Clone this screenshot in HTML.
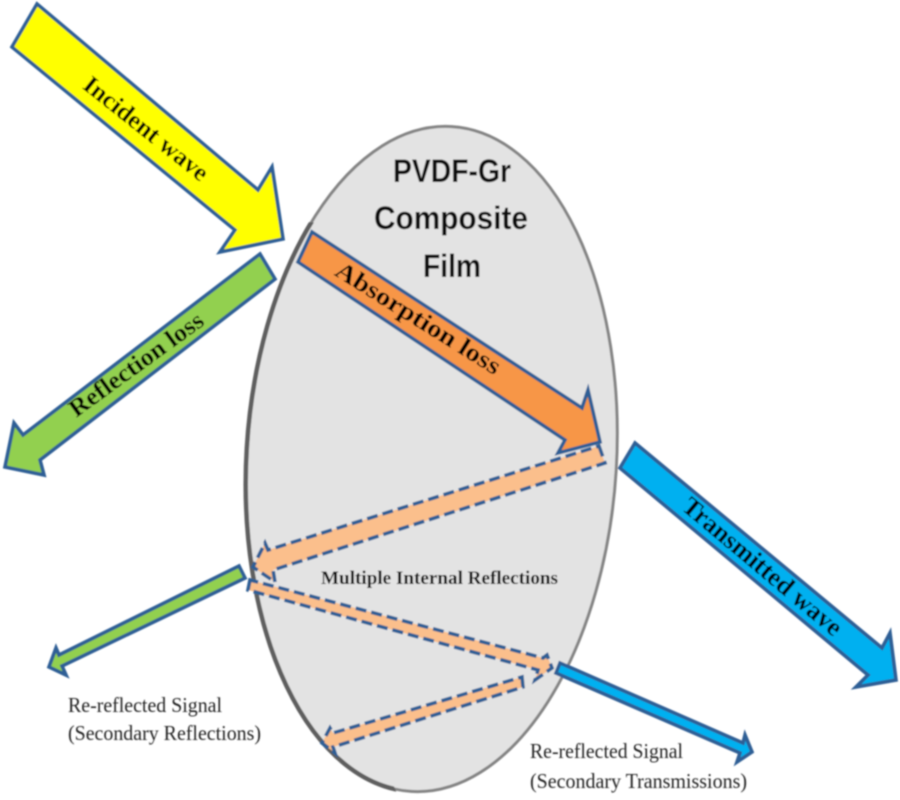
<!DOCTYPE html>
<html>
<head>
<meta charset="utf-8">
<style>
html,body{margin:0;padding:0;background:#fff;width:900px;height:800px;overflow:hidden}
svg{display:block}
.s{font-family:"Liberation Serif",serif;font-weight:bold;fill:#000}
.r{font-family:"Liberation Serif",serif;fill:#222;font-size:21px}
.t{font-family:"Liberation Sans",sans-serif;font-weight:bold;font-size:32px;fill:#111}
.a{stroke:#2f5f95;stroke-width:3.6;stroke-linejoin:miter}
.d{fill:#fbbf8c;stroke:#2f5f95;stroke-width:3.6;stroke-dasharray:11 5}
</style>
</head>
<body>
<svg width="900" height="800" viewBox="0 0 900 800" xmlns="http://www.w3.org/2000/svg">
<defs>
<filter id="b" x="-5%" y="-5%" width="110%" height="110%"><feGaussianBlur stdDeviation="0.75"/></filter>
<clipPath id="c"><polygon points="230,780 420,800 340,640 270,420 300,230 230,230"/></clipPath>
</defs>
<g filter="url(#b)">
<ellipse cx="431.5" cy="459" rx="185" ry="333" transform="rotate(3.5 431.5 459)" fill="#e3e3e3" stroke="#848484" stroke-width="3"/>
<ellipse cx="431.5" cy="459" rx="185" ry="333" transform="rotate(3.5 431.5 459)" fill="none" stroke="#5f5f5f" stroke-width="4.5" clip-path="url(#c)"/>

<polygon class="a" fill="#ffff00" points="37,4 12,47 235,230 220,252 283,239 272,167 258,190"/>
<polygon class="a" fill="#92d050" points="260,254 275,279 40,460 44,475 5,467 14,423 23,435"/>
<polygon class="a" fill="#f79646" points="312,232 298,262 565,440 558,453 600,442 588,390 582,408"/>
<polygon class="d" points="599,446 605,463 273,570 275,582 253,567 265,543 268,550"/>
<polygon class="d" points="250,580 248,590 538,670 535,680 552,668 547,655 543,658"/>
<polygon class="d" points="522,677 523,687 333,747 335,753 322,743 330,728 333,733"/>
<polygon class="a" fill="#92d050" points="239,566 245,578 62,666 66,675 49,667 56,648 59,655"/>
<polygon class="a" fill="#00b0f0" points="635,443 620,468 868,675 856,687 896,680 890,633 882,648"/>
<polygon class="a" fill="#00b0f0" points="560,663 556,673 740,753 737,762 752,752 745,735 743,743"/>

<text class="s" font-size="25" text-anchor="middle" textLength="152" lengthAdjust="spacingAndGlyphs" transform="translate(141,135) rotate(38.5)">Incident wave</text>
<text class="s" font-size="25" text-anchor="middle" textLength="160" lengthAdjust="spacingAndGlyphs" transform="translate(141,371) rotate(-36)">Reflection loss</text>
<text class="s" font-size="25" text-anchor="middle" textLength="190" lengthAdjust="spacingAndGlyphs" transform="translate(414,325) rotate(32)">Absorption  loss</text>
<text class="s" font-size="26" text-anchor="middle" textLength="200" lengthAdjust="spacingAndGlyphs" transform="translate(757,573) rotate(40)">Transmitted wave</text>
<text class="s" x="321" y="584" font-size="19" textLength="237" lengthAdjust="spacingAndGlyphs">Multiple Internal Reflections</text>
<text class="r" x="68" y="712" textLength="154" lengthAdjust="spacingAndGlyphs">Re-reflected  Signal</text>
<text class="r" x="68" y="740" textLength="193" lengthAdjust="spacingAndGlyphs">(Secondary  Reflections)</text>
<text class="r" x="530" y="758" textLength="153" lengthAdjust="spacingAndGlyphs">Re-reflected  Signal</text>
<text class="r" x="530" y="788" textLength="217" lengthAdjust="spacingAndGlyphs">(Secondary  Transmissions)</text>
<text class="t" x="393" y="182" textLength="118" lengthAdjust="spacingAndGlyphs">PVDF-Gr</text>
<text class="t" x="374" y="229" textLength="154" lengthAdjust="spacingAndGlyphs">Composite</text>
<text class="t" x="423" y="277" textLength="58" lengthAdjust="spacingAndGlyphs">Film</text>
</g>
</svg>
</body>
</html>
